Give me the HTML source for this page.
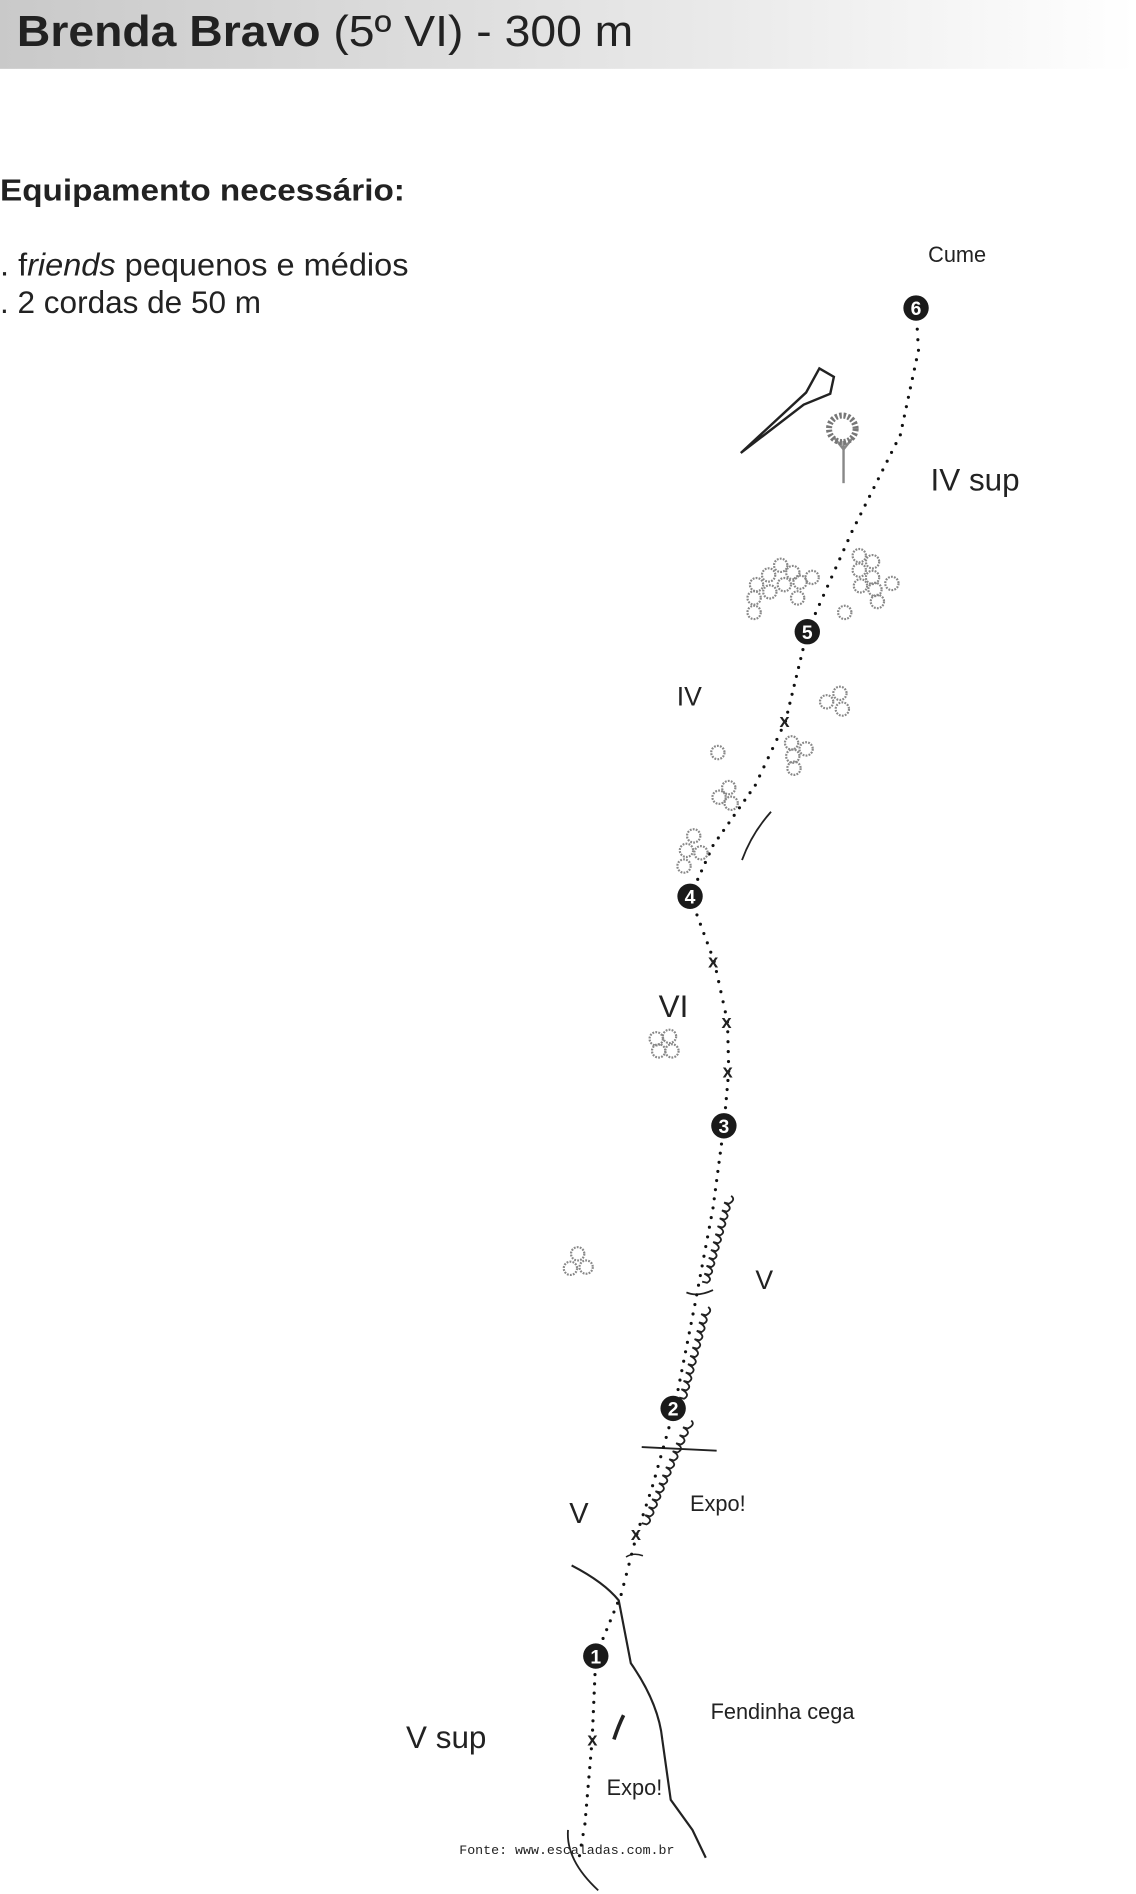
<!DOCTYPE html>
<html><head><meta charset="utf-8"><style>
html,body{margin:0;padding:0;background:#fff;width:1136px;height:1894px;overflow:hidden}
svg{display:block}
text{font-family:"Liberation Sans",sans-serif;fill:#222}
</style></head><body>
<svg id="s" width="1136" height="1894" viewBox="0 0 940 1568" preserveAspectRatio="none" xmlns="http://www.w3.org/2000/svg">
<defs><linearGradient id="g" x1="0" x2="1"><stop offset="0" stop-color="#c9c9c9"/><stop offset="0.6" stop-color="#e8e8e8"/><stop offset="1" stop-color="#fff"/></linearGradient></defs>
<rect x="0" y="0" width="940" height="57" fill="url(#g)"/>
<text x="14" y="38" font-size="36" fill="#333" textLength="510" lengthAdjust="spacingAndGlyphs"><tspan font-weight="bold">Brenda Bravo</tspan> (5º VI) - 300 m</text>
<text x="0" y="166" font-size="25" font-weight="bold" fill="#111" textLength="335" lengthAdjust="spacingAndGlyphs">Equipamento necessário:</text>
<text x="0" y="228" font-size="26" fill="#111" textLength="338" lengthAdjust="spacingAndGlyphs">. f<tspan font-style="italic">riends</tspan> pequenos e médios</text>
<text x="0" y="259" font-size="26" fill="#111" textLength="216" lengthAdjust="spacingAndGlyphs">. 2 cordas de 50 m</text>
<text x="768" y="217" font-size="18">Cume</text>
<text x="770" y="406" font-size="26">IV sup</text>
<text x="560" y="584" font-size="22">IV</text>
<text x="545" y="842" font-size="26">VI</text>
<text x="625" y="1067" font-size="22">V</text>
<text x="471" y="1261" font-size="24">V</text>
<text x="571" y="1251" font-size="18">Expo!</text>
<text x="336" y="1447" font-size="26">V sup</text>
<text x="588" y="1423" font-size="18">Fendinha cega</text>
<text x="502" y="1486" font-size="18">Expo!</text>
<text x="380" y="1535" font-size="11" fill="#aaa" style="font-family:'Liberation Mono',monospace">Fonte: www.escaladas.com.br</text>
<polygon points="613,375 667,325 678,305 690,312 687,326 665,335" fill="none" stroke="#222" stroke-width="2"/>
<line x1="698" y1="365" x2="698" y2="400" stroke="#888" stroke-width="2"/>
<path d="M690,362 L698,372 L706,362" fill="none" stroke="#888" stroke-width="2"/>
<circle cx="697" cy="355" r="11" fill="none" stroke="#777" stroke-width="5" stroke-dasharray="2 1.5"/>
<path d="M473,1296 Q500,1310 512,1325 L522,1377 Q545,1410 548,1440 L555,1490 L573,1515 L584,1538" fill="none" stroke="#222" stroke-width="1.8"/>
<line x1="531" y1="1198" x2="593" y2="1201" stroke="#222" stroke-width="1.5"/>
<path d="M614,712 Q622,690 638,672" fill="none" stroke="#222" stroke-width="1.5"/>
<path d="M470,1515 Q468,1540 495,1565" fill="none" stroke="#222" stroke-width="1.5"/>
<path d="M508,1440 Q512,1428 516,1420" fill="none" stroke="#222" stroke-width="3"/>
<path d="M568,1070 Q577,1074 590,1068" fill="none" stroke="#222" stroke-width="1.5"/>
<path d="M518,1289 Q524,1285 532,1288" fill="none" stroke="#222" stroke-width="1.3"/>
<g id="dyn"></g>
</svg>
<script>
var ns="http://www.w3.org/2000/svg",g=document.getElementById("dyn");
function el(t,a){var e=document.createElementNS(ns,t);for(var k in a)e.setAttribute(k,a[k]);g.appendChild(e);return e;}
var pts=[[758,255],[760,290],[745,360],[705,440],[668,523],[650,597],[625,650],[590,700],[571,742],[591,796],[602,846],[603,887],[599,932],[590,1000],[575,1080],[558,1166],[540,1230],[527,1270],[514,1320],[493,1371],[490,1440],[484,1510],[478,1545]];
for(var i=0;i<pts.length-1;i++){var a=pts[i],b=pts[i+1],d=Math.hypot(b[0]-a[0],b[1]-a[1]),n=Math.round(d/8);for(var j=0;j<n;j++){var t=j/n;el("circle",{cx:a[0]+(b[0]-a[0])*t,cy:a[1]+(b[1]-a[1])*t,r:1.3,fill:"#111"});}}
function zig(x1,y1,x2,y2){var d=Math.hypot(x2-x1,y2-y1),n=Math.round(d/7),p="M"+x1+","+y1;var ux=(x2-x1)/n,uy=(y2-y1)/n;for(var i=1;i<=n;i++){var x=x1+ux*i,y=y1+uy*i;p+=" Q"+(x-ux/2+5)+","+(y-uy/2)+" "+x+","+y+" l-4,-1";}el("path",{d:p,fill:"none",stroke:"#222","stroke-width":1.5});}
zig(605,990,585,1062);zig(586,1082,566,1158);zig(572,1176,535,1262);
[[650,597],[591,796],[602,846],[603,887],[527,1270],[491,1440]].forEach(function(p){var t=el("text",{x:p[0]-5,y:p[1]+5,"font-size":15,"font-weight":"bold"});t.textContent="x";});
[[758,255,"6"],[668,523,"5"],[571,742,"4"],[599,932,"3"],[557,1166,"2"],[493,1371,"1"]].forEach(function(p){el("circle",{cx:p[0],cy:p[1],r:10.5,fill:"#1a1a1a"});var t=el("text",{x:p[0],y:p[1]+6,"font-size":16,"font-weight":"bold","text-anchor":"middle",fill:"#fff",style:"fill:#fff"});t.textContent=p[2];});
var sh=[[624,507],[624,495],[626,484],[636,476],[646,468],[656,474],[649,484],[637,490],[660,495],[662,482],[672,478],[699,507],[711,460],[722,465],[711,472],[722,478],[712,485],[724,488],[738,483],[726,498],[684,581],[695,574],[697,587],[655,615],[667,620],[656,626],[657,636],[594,623],[603,652],[595,660],[605,665],[574,692],[568,704],[580,706],[566,717],[543,860],[554,858],[545,870],[556,870],[478,1038],[472,1050],[485,1049]];
sh.forEach(function(p){el("circle",{cx:p[0],cy:p[1],r:5.5,fill:"none",stroke:"#888","stroke-width":1.8,"stroke-dasharray":"1.5 1"});});
</script>
</body></html>
